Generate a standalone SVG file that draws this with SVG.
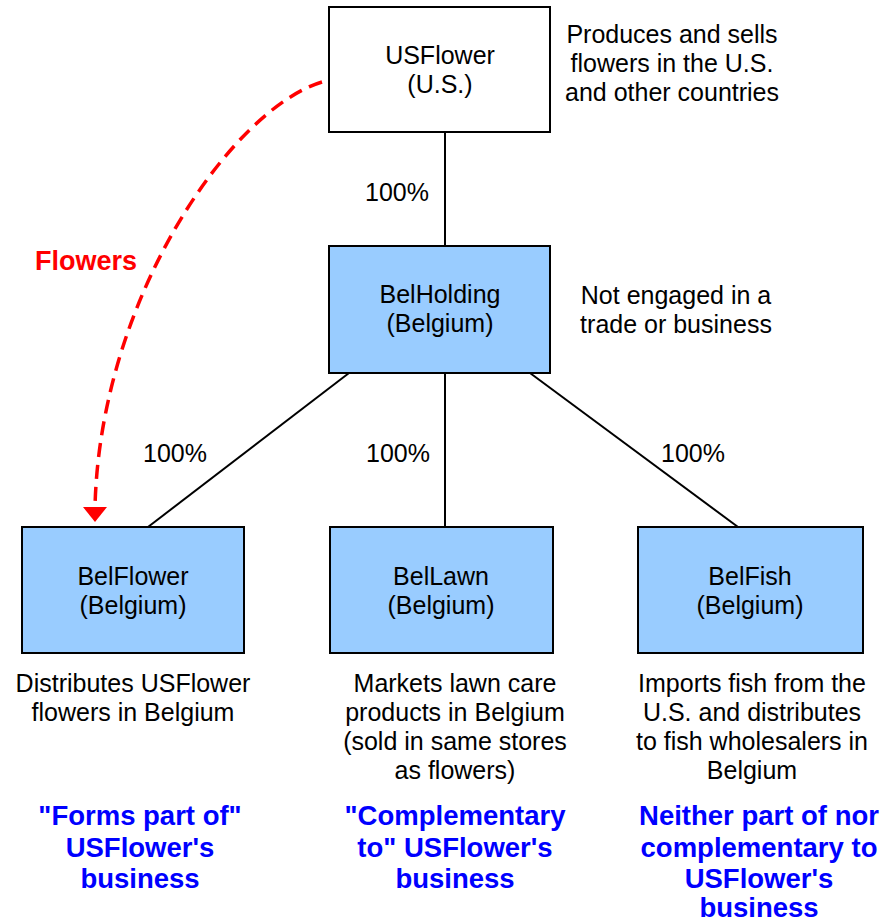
<svg xmlns="http://www.w3.org/2000/svg" width="886" height="923" viewBox="0 0 886 923">
<style>
.box{stroke:#000;stroke-width:2}
.ent{fill:#fff}
.bel{fill:#99CCFF}
.t{font-family:"Liberation Sans",Arial,sans-serif;font-size:25px;fill:#000;text-anchor:middle}
.b{font-family:"Liberation Sans",Arial,sans-serif;font-size:27.5px;font-weight:bold;fill:#0000FF;text-anchor:middle}
.r{font-family:"Liberation Sans",Arial,sans-serif;font-size:27px;font-weight:bold;fill:#FF0000;text-anchor:middle}
.ln{stroke:#000;stroke-width:2;fill:none}
</style>
<defs>
<marker id="ah" markerWidth="24" markerHeight="16" refX="12" refY="0" orient="0" markerUnits="userSpaceOnUse">
<path d="M0,0 L24,0 L12,15 Z" fill="#FF0000"/>
</marker>
</defs>
<g id="connectors">
<line class="ln" x1="445" y1="132" x2="445" y2="246"/>
<line class="ln" x1="349" y1="373" x2="148" y2="527"/>
<line class="ln" x1="445" y1="373" x2="445" y2="527"/>
<line class="ln" x1="530" y1="373" x2="738" y2="527"/>
<path d="M322,82 C230,110 100,300 95,507" fill="none" stroke="#FF0000" stroke-width="3.5" stroke-dasharray="14,8" marker-end="url(#ah)"/>
<text class="t" x="397" y="201">100%</text>
<text class="t" x="175" y="462">100%</text>
<text class="t" x="398" y="462">100%</text>
<text class="t" x="693" y="462">100%</text>
<text class="r" x="86" y="270">Flowers</text>
</g>
<g id="usflower">
<rect class="box ent" x="329" y="7" width="221" height="125"/>
<text class="t" x="440" y="64">USFlower</text>
<text class="t" x="440" y="93">(U.S.)</text>
<text class="t" x="672" y="43">Produces and sells</text>
<text class="t" x="672" y="72">flowers in the U.S.</text>
<text class="t" x="672" y="101">and other countries</text>
</g>
<g id="belholding">
<rect class="box bel" x="329" y="246" width="221" height="127"/>
<text class="t" x="440" y="303">BelHolding</text>
<text class="t" x="440" y="332">(Belgium)</text>
<text class="t" x="676" y="304">Not engaged in a</text>
<text class="t" x="676" y="333">trade or business</text>
</g>
<g id="belflower">
<rect class="box bel" x="22" y="527" width="222" height="126"/>
<text class="t" x="133" y="585">BelFlower</text>
<text class="t" x="133" y="614">(Belgium)</text>
<text class="t" x="133" y="692">Distributes USFlower</text>
<text class="t" x="133" y="721">flowers in Belgium</text>
<text class="b" x="140" y="825">"Forms part of"</text>
<text class="b" x="140" y="857">USFlower's</text>
<text class="b" x="140" y="888">business</text>
</g>
<g id="bellawn">
<rect class="box bel" x="330" y="527" width="223" height="126"/>
<text class="t" x="441" y="585">BelLawn</text>
<text class="t" x="441" y="614">(Belgium)</text>
<text class="t" x="455" y="692">Markets lawn care</text>
<text class="t" x="455" y="721">products in Belgium</text>
<text class="t" x="455" y="750">(sold in same stores</text>
<text class="t" x="455" y="779">as flowers)</text>
<text class="b" x="455" y="825">"Complementary</text>
<text class="b" x="455" y="857">to" USFlower's</text>
<text class="b" x="455" y="888">business</text>
</g>
<g id="belfish">
<rect class="box bel" x="638" y="527" width="225" height="126"/>
<text class="t" x="750" y="585">BelFish</text>
<text class="t" x="750" y="614">(Belgium)</text>
<text class="t" x="752" y="692">Imports fish from the</text>
<text class="t" x="752" y="721">U.S. and distributes</text>
<text class="t" x="752" y="750">to fish wholesalers in</text>
<text class="t" x="752" y="779">Belgium</text>
<text class="b" x="759" y="825">Neither part of nor</text>
<text class="b" x="759" y="857">complementary to</text>
<text class="b" x="759" y="888">USFlower's</text>
<text class="b" x="759" y="917">business</text>
</g>
</svg>
